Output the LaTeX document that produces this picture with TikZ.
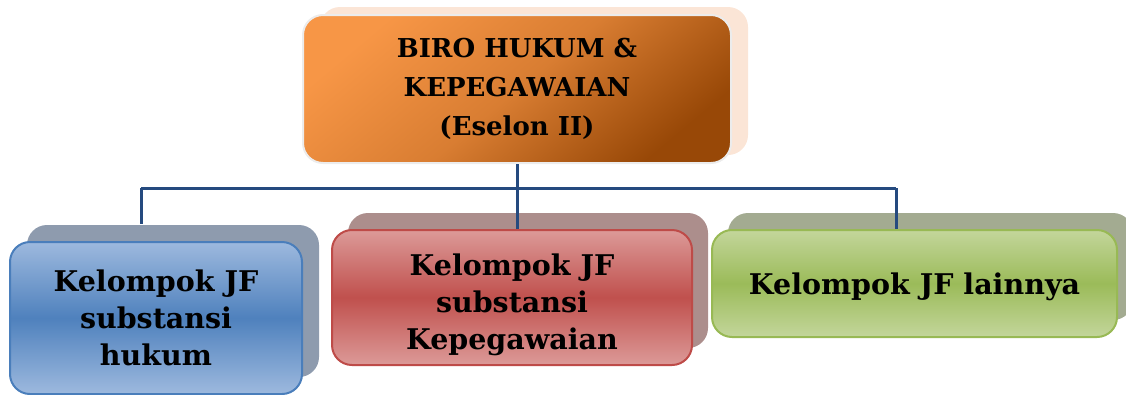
\documentclass[tikz,border=0pt]{standalone}
\usepackage{fontspec}
\setmainfont{DejaVu Serif}
\usetikzlibrary{shadows}
\definecolor{orgNavy}{HTML}{254A7F}
\definecolor{orgOrangeA}{HTML}{F79646}
\definecolor{orgOrangeB}{HTML}{984807}
\definecolor{orgPeach}{HTML}{FBE5D6}
\definecolor{orgBlueA}{HTML}{9DB9DE}
\definecolor{orgBlueB}{HTML}{4F81BD}
\definecolor{orgBlueEdge}{HTML}{4A7EBB}
\definecolor{orgBlueShade}{HTML}{8E9BAE}
\definecolor{orgRedA}{HTML}{DC9A98}
\definecolor{orgRedB}{HTML}{C0504D}
\definecolor{orgRedEdge}{HTML}{BE4B48}
\definecolor{orgRedShade}{HTML}{AC8E8C}
\definecolor{orgGreenA}{HTML}{C3D69B}
\definecolor{orgGreenB}{HTML}{9BBB59}
\definecolor{orgGreenEdge}{HTML}{98B954}
\definecolor{orgGreenShade}{HTML}{A3AB91}
\tikzset{
  org link/.style={draw=orgNavy, line width=3pt},
  org text/.style={align=center, inner sep=0pt, font=\bfseries\fontsize{28.5}{37}\selectfont},
  org box/.style={org text, rounded corners=20pt, line width=2pt},
  org head/.style={org box, draw=gray!15, top color=orgOrangeA, bottom color=orgOrangeB,
    middle color=orgOrangeA!68!orgOrangeB, shading angle=40,
    font=\bfseries\fontsize{26}{39}\selectfont,
    general shadow={fill=orgPeach, shadow xshift=17pt, shadow yshift=8pt}},
  org blue/.style={org box, draw=orgBlueEdge, top color=orgBlueA, bottom color=orgBlueA,
    middle color=orgBlueB, general shadow={fill=orgBlueShade, shadow xshift=17pt, shadow yshift=17pt}},
  org red/.style={org box, draw=orgRedEdge, top color=orgRedA, bottom color=orgRedA,
    middle color=orgRedB, general shadow={fill=orgRedShade, shadow xshift=16pt, shadow yshift=17pt}},
  org green/.style={org box, draw=orgGreenEdge, top color=orgGreenA, bottom color=orgGreenA,
    middle color=orgGreenB, general shadow={fill=orgGreenShade, shadow xshift=16pt, shadow yshift=17pt}},
}

\begin{document}
\begin{tikzpicture}[x=1pt,y=-1pt]
  \useasboundingbox (0,0) rectangle (1126,394);
  \node[org head, minimum width=428pt, minimum height=148pt] (biro) at (517,89)
    {BIRO HUKUM \&\\KEPEGAWAIAN\\(Eselon II)};
  \node[org blue, minimum width=292pt, minimum height=152pt] (hukum) at (156,318)
    {Kelompok JF\\substansi\\hukum};
  \node[org red, minimum width=360pt, minimum height=135pt] (pegawai) at (512,297.5) {};
  \node[org text] (pegawaiText) at (512,305) {Kelompok JF\\substansi\\Kepegawaian};
  \node[org green, minimum width=405pt, minimum height=107pt] (lain) at (914.5,283.5) {};
  \node[org text] (lainText) at (914.5,287) {Kelompok JF lainnya};
  % garis penghubung
  \coordinate (busL) at (141,188);
  \coordinate (busR) at (896,188);
  \coordinate (busM) at (biro.south |- busL);
  \coordinate (hukumTop) at ([yshift=17pt]hukum.north);
  \draw[org link] (biro.south) -- (busM);
  \draw[org link] (busL) -- (busR);
  \draw[org link] (busL) -- (busL |- hukumTop);
  \draw[org link] (busM) -- (busM |- pegawai.north);
  \draw[org link] (busR) -- (busR |- lain.north);
\end{tikzpicture}
\end{document}
